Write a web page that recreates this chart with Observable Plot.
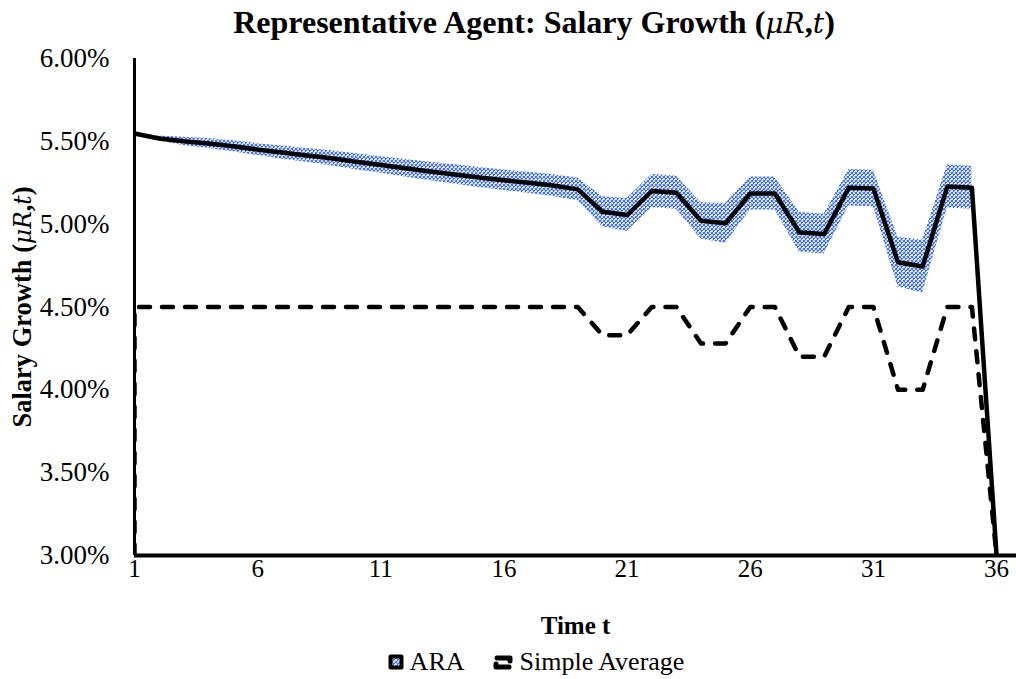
<!DOCTYPE html>
<html><head><meta charset="utf-8">
<script src="https://cdn.jsdelivr.net/npm/d3@7"></script>
<script src="https://cdn.jsdelivr.net/npm/@observablehq/plot@0.6"></script>
<style>
html,body{margin:0;padding:0;background:#fff;}
body{width:1016px;height:679px;position:relative;overflow:hidden;font-family:"Liberation Serif","Times New Roman",serif;color:#000;}
#title{position:absolute;left:0;width:1068px;top:3px;text-align:center;font-weight:bold;font-size:32px;line-height:38px;white-space:nowrap;}
#title i, #ylab i{font-family:"DejaVu Serif",serif;font-weight:normal;font-size:0.88em;}
#ylab{position:absolute;left:22px;top:307px;transform:translate(-50%,-50%) rotate(-90deg);font-weight:bold;font-size:26.5px;line-height:28px;white-space:nowrap;}
#chart{position:absolute;left:0;top:45px;}
#chart svg text{font-family:"Liberation Serif","Times New Roman",serif;}
#chart svg [aria-label="y-axis tick label"]{font-size:27px;}
#chart svg [aria-label="x-axis tick label"]{font-size:25px;}
#legend{position:absolute;top:647px;left:0;width:1072px;display:flex;justify-content:center;align-items:center;font-size:26px;line-height:30px;white-space:nowrap;}
#legend .item{display:flex;align-items:center;}
#legend svg{margin-right:6px;}
</style>
</head><body>
<svg width="0" height="0" style="position:absolute">
  <defs>
    <pattern id="araPattern" patternUnits="userSpaceOnUse" width="4" height="4">
      <rect width="4" height="4" fill="#ffffff"/>
      <path d="M0,0 L4,4 M4,0 L0,4" stroke="#3a6ad4" stroke-width="1.05"/>
    </pattern>
  </defs>
</svg>
<div id="title">Representative Agent: Salary Growth (<i>μR</i>,<i>t</i>)</div>
<div id="ylab">Salary Growth (<i>μR</i>,<i>t</i>)</div>
<div id="chart"></div>
<div id="legend">
  <span class="item"><svg width="16" height="16" viewBox="0 0 16 16"><rect x="0.5" y="0.5" width="15" height="15" rx="2" fill="#000"/><rect x="4.5" y="4.5" width="7" height="7" fill="url(#araPattern)"/></svg>ARA</span>
  <span class="item" style="margin-left:27px"><svg width="22" height="17" viewBox="0 0 22 17"><path d="M5,4 H18 V7 M17,13 H4 V10" stroke="#000" stroke-width="5" fill="none" stroke-linecap="round" stroke-linejoin="round"/></svg>Simple Average</span>
</div>
<script>
// Time periods (category axis)
const times = [1,2,3,4,5,6,7,8,9,10,11,12,13,14,15,16,17,18,19,20,21,22,23,24,25,26,27,28,29,30,31,32,33,34,35,36];
// ARA mean salary growth (%), last value drops to the axis floor
const araMean = [5.547,5.517,5.500,5.487,5.470,5.450,5.432,5.415,5.398,5.377,5.357,5.337,5.318,5.300,5.282,5.265,5.250,5.233,5.210,5.075,5.055,5.200,5.190,5.020,5.005,5.185,5.185,4.950,4.940,5.220,5.215,4.770,4.745,5.227,5.220,3.000];
// ARA band upper / lower bounds (%), periods 1..35
const araHigh = [5.547,5.532,5.525,5.517,5.503,5.486,5.472,5.457,5.443,5.425,5.407,5.390,5.374,5.358,5.342,5.327,5.314,5.299,5.278,5.165,5.155,5.300,5.290,5.130,5.125,5.285,5.285,5.070,5.060,5.330,5.325,4.920,4.905,5.357,5.350];
const araLow  = [5.547,5.502,5.475,5.457,5.437,5.414,5.392,5.373,5.353,5.329,5.307,5.284,5.262,5.242,5.222,5.203,5.186,5.167,5.142,4.985,4.955,5.100,5.090,4.910,4.885,5.085,5.085,4.830,4.820,5.110,5.105,4.620,4.585,5.097,5.090];
// Simple average (%), starts from the axis floor at t=1
const avgTimes = [1,1,2,3,4,5,6,7,8,9,10,11,12,13,14,15,16,17,18,19,20,21,22,23,24,25,26,27,28,29,30,31,32,33,34,35,36];
const avgValues = [3.00,4.50,4.50,4.50,4.50,4.50,4.50,4.50,4.50,4.50,4.50,4.50,4.50,4.50,4.50,4.50,4.50,4.50,4.50,4.50,4.33,4.33,4.50,4.50,4.28,4.28,4.50,4.50,4.20,4.20,4.50,4.50,4.00,4.00,4.50,4.50,3.00];
// Axis ticks
const xTicks = [1,6,11,16,21,26,31,36];
const yTicks = [3.0,3.5,4.0,4.5,5.0,5.5,6.0];

const araData = times.map((t,i) => ({t, v: araMean[i]}));
const bandData = araHigh.map((h,i) => ({t: times[i], high: h, low: araLow[i]}));
const avgData = avgTimes.map((t,i) => ({t, v: avgValues[i]}));

const chart = Plot.plot({
  width: 1016, height: 590,
  marginTop: 13, marginBottom: 80, marginLeft: 134, marginRight: 0,
  style: {fontFamily: '"Liberation Serif","Times New Roman",serif', fontSize: "23px", color: "#000", background: "transparent", overflow: "visible"},
  x: {domain: [1, 36.81]},
  y: {domain: [3, 6]},
  marks: [
    Plot.areaY(bandData, {x: "t", y1: "low", y2: "high", fill: "url(#araPattern)"}),
    Plot.line(avgData, {x: "t", y: "v", stroke: "#000", strokeWidth: 4.5, strokeDasharray: "11,12", strokeLinecap: "round", strokeLinejoin: "round", clip: true}),
    Plot.line(araData, {x: "t", y: "v", stroke: "#000", strokeWidth: 4.5, strokeLinejoin: "round", clip: true}),
    Plot.ruleX([1], {y1: 3, y2: 6, stroke: "#000", strokeWidth: 3}),
    Plot.ruleY([3], {stroke: "#000", strokeWidth: 4}),
    Plot.axisX({ticks: xTicks, tickSize: 0, tickPadding: 4, label: null, fontSize: 25, tickFormat: d => String(d)}),
    Plot.axisY({ticks: yTicks, tickSize: 0, tickPadding: 25, label: null, fontSize: 27, tickFormat: d => d.toFixed(2) + "%"}),
    Plot.text(["Time t"], {frameAnchor: "bottom", dy: 78, fontWeight: "bold", fontSize: 25})
  ]
});
document.getElementById("chart").appendChild(chart);
</script>
</body></html>
